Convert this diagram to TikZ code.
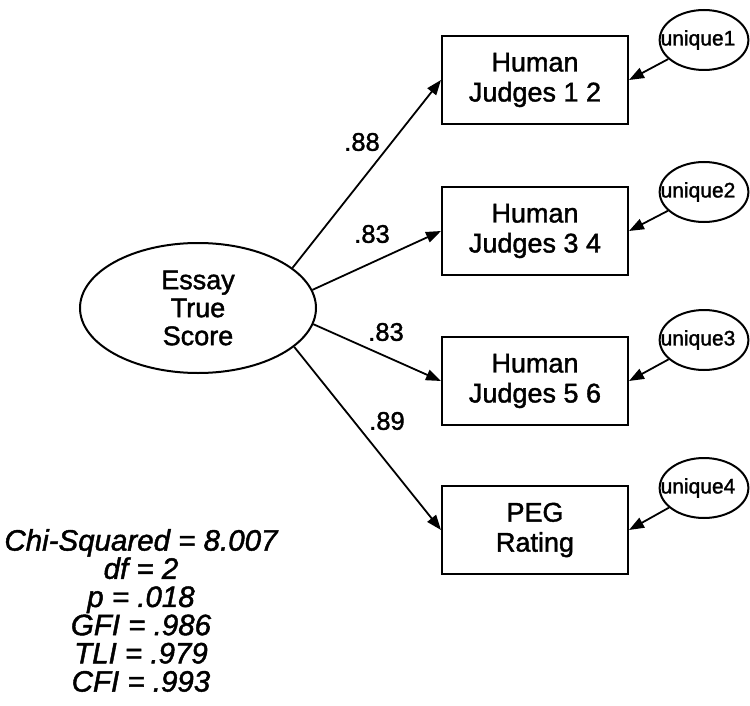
\documentclass[tikz,border=0pt]{standalone}
\usepackage{fontspec}
\setmainfont{Liberation Sans}
\newfontfamily\semib{Liberation Sans}[FakeBold=1.5,ItalicFeatures={FakeBold=1.5}]
\usetikzlibrary{arrows.meta,shapes.geometric}
\begin{document}
\begin{tikzpicture}[x=1pt,y=-1pt,
  obsbox/.style={draw,line width=2pt,minimum width=186pt,minimum height=88pt,inner sep=0pt,align=center,font=\semib\fontsize{27}{30}\selectfont},
  latent/.style={draw,ellipse,line width=2pt,inner sep=0pt,align=center},
  errnode/.style={latent,minimum width=82pt,minimum height=60pt,font=\semib\fontsize{21}{24}\selectfont},
  coef/.style={inner sep=0pt,font=\semib\fontsize{25.5}{28}\selectfont},
  conn/.style={line width=1.8pt,-{Triangle[length=15pt,width=11pt]}}]
\useasboundingbox (0,0) rectangle (750,706);
% latent factor
\node[latent,minimum width=236pt,minimum height=130pt,font=\semib\fontsize{27}{28}\selectfont] (E) at (198,308) {Essay\\True\\Score};
% observed boxes
\node[obsbox] (b1) at (535,80) {Human\\Judges 1 2};
\node[obsbox] (b2) at (535,231) {Human\\Judges 3 4};
\node[obsbox] (b3) at (535,381) {Human\\Judges 5 6};
\node[obsbox] (b4) at (535,530) {PEG\\Rating};
% error terms
\node[errnode] (u1) at (704,40) {\hspace*{-12pt}unique1};
\node[errnode] (u2) at (704,192) {\hspace*{-12pt}unique2};
\node[errnode] (u3) at (704,340) {\hspace*{-12pt}unique3};
\node[errnode] (u4) at (704,488) {\hspace*{-12pt}unique4};
% loadings
\draw[conn] (E.23) -- (b1.west);
\draw[conn] (E.9) -- (b2.west);
\draw[conn] (E.-8) -- (b3.west);
\draw[conn] (E.-22) -- (b4.west);
\draw[conn] (u1) -- (b1.east);
\draw[conn] (u2) -- (b2.east);
\draw[conn] (u3) -- (b3.east);
\draw[conn] (u4) -- (b4.east);
% coefficients
\node[coef] (c1) at (362,142) {.88};
\node[coef] (c2) at (372,234) {.83};
\node[coef] (c3) at (386,332) {.83};
\node[coef] (c4) at (387,421) {.89};
% fit statistics
\node[inner sep=0pt,align=center,anchor=north,font=\semib\fontsize{29.5}{28.2}\selectfont\itshape] (fit) at (141,529)
  {Chi-Squared = 8.007\\df = 2\\p = .018\\GFI = .986\\TLI = .979\\CFI = .993};
\end{tikzpicture}
\end{document}
